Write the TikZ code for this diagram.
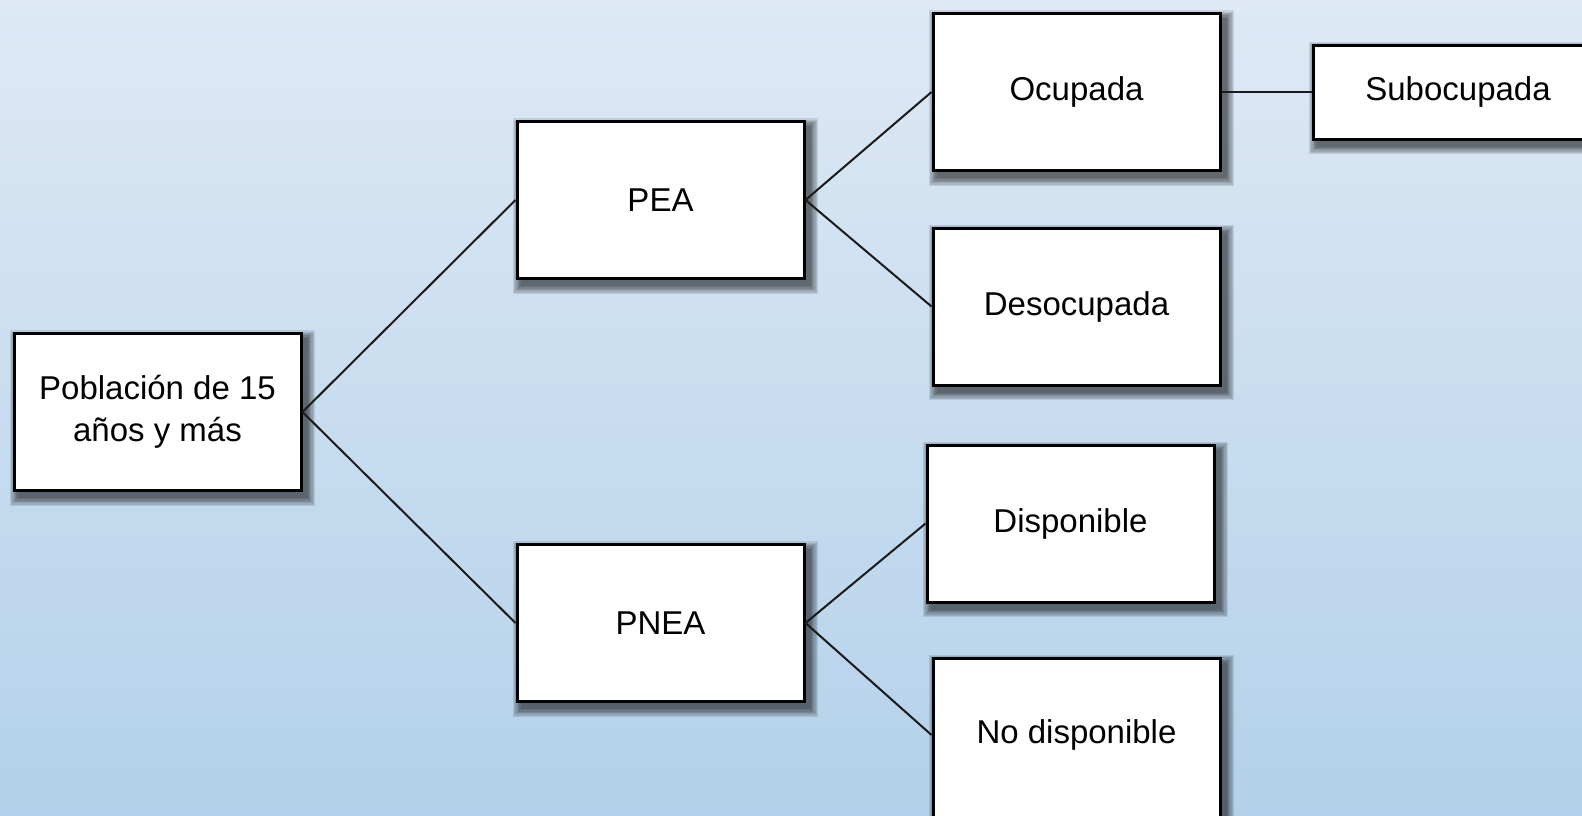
\documentclass[tikz,border=0pt]{standalone}
\usepackage{fontspec}
\setmainfont{Liberation Sans}
\definecolor{bgtop}{HTML}{DEE9F5}
\definecolor{bgbot}{HTML}{B3D1EA}
\definecolor{linegray}{HTML}{1A1A1A}
\pgfdeclarelayer{bg}
\pgfdeclarelayer{shadow}
\pgfsetlayers{bg,shadow,main}
\tikzset{
  box/.style={draw=black, line width=3pt, fill=white, rectangle,
    minimum width=287pt, minimum height=157pt, inner sep=0pt, align=center,
    font=\fontsize{33}{42}\selectfont},
  link/.style={draw=linegray, line width=2pt},
  shadowstep/.style={fill=black, fill opacity=0.1, draw=none}
}
\begin{document}
\begin{tikzpicture}[x=1pt,y=-1pt]
  % background and picture bounds
  \useasboundingbox (0,0) rectangle (1582,815);
  \clip (0,0) rectangle (1582,815);
  \begin{pgfonlayer}{bg}
    \shade[top color=bgtop, bottom color=bgbot] (0,0) rectangle (1582,815);
  \end{pgfonlayer}

  % nodes
  \node[box] (pob) at (157.5,412) {Población de 15\\años y más};
  \node[box] (pea) at (660.5,200) {PEA};
  \node[box] (pnea) at (660.5,623) {PNEA};
  \node[box] (ocu) at (1076.5,92) {Ocupada};
  \node[box] (des) at (1076.5,306.5) {Desocupada};
  \node[box] (dis) at (1070.5,523.5) {Disponible};
  % this box runs past the lower edge; its label sits higher than its centre
  \node[box, minimum height=170pt, text height=24pt, text depth=23pt]
    (nod) at (1076.5,743) {No disponible};
  \node[box, minimum width=290pt, minimum height=94pt] (sub) at (1458,92) {Subocupada};

  % soft drop shadows, built from stacked translucent rectangles
  \begin{pgfonlayer}{shadow}
    \foreach \n in {pob,pea,pnea,ocu,des,dis,nod,sub}{
      \foreach \k in {0,...,6}{
        \pgfmathsetmacro{\e}{1.3*\k}
        \fill[shadowstep] ([shift={(5-\e,6+\e)}]\n.south west)
          rectangle ([shift={(5+\e,6-\e)}]\n.north east);
      }
    }
  \end{pgfonlayer}

  % connectors
  \draw[link] (pob.east) -- (pea.west);
  \draw[link] (pob.east) -- (pnea.west);
  \draw[link] (pea.east) -- (ocu.west);
  \draw[link] (pea.east) -- (des.west);
  \draw[link] (pnea.east) -- (dis.west);
  \draw[link] (pnea.east) -- ([yshift=8pt]nod.west);
  \draw[link] (ocu.east) -- (sub.west);
\end{tikzpicture}
\end{document}
